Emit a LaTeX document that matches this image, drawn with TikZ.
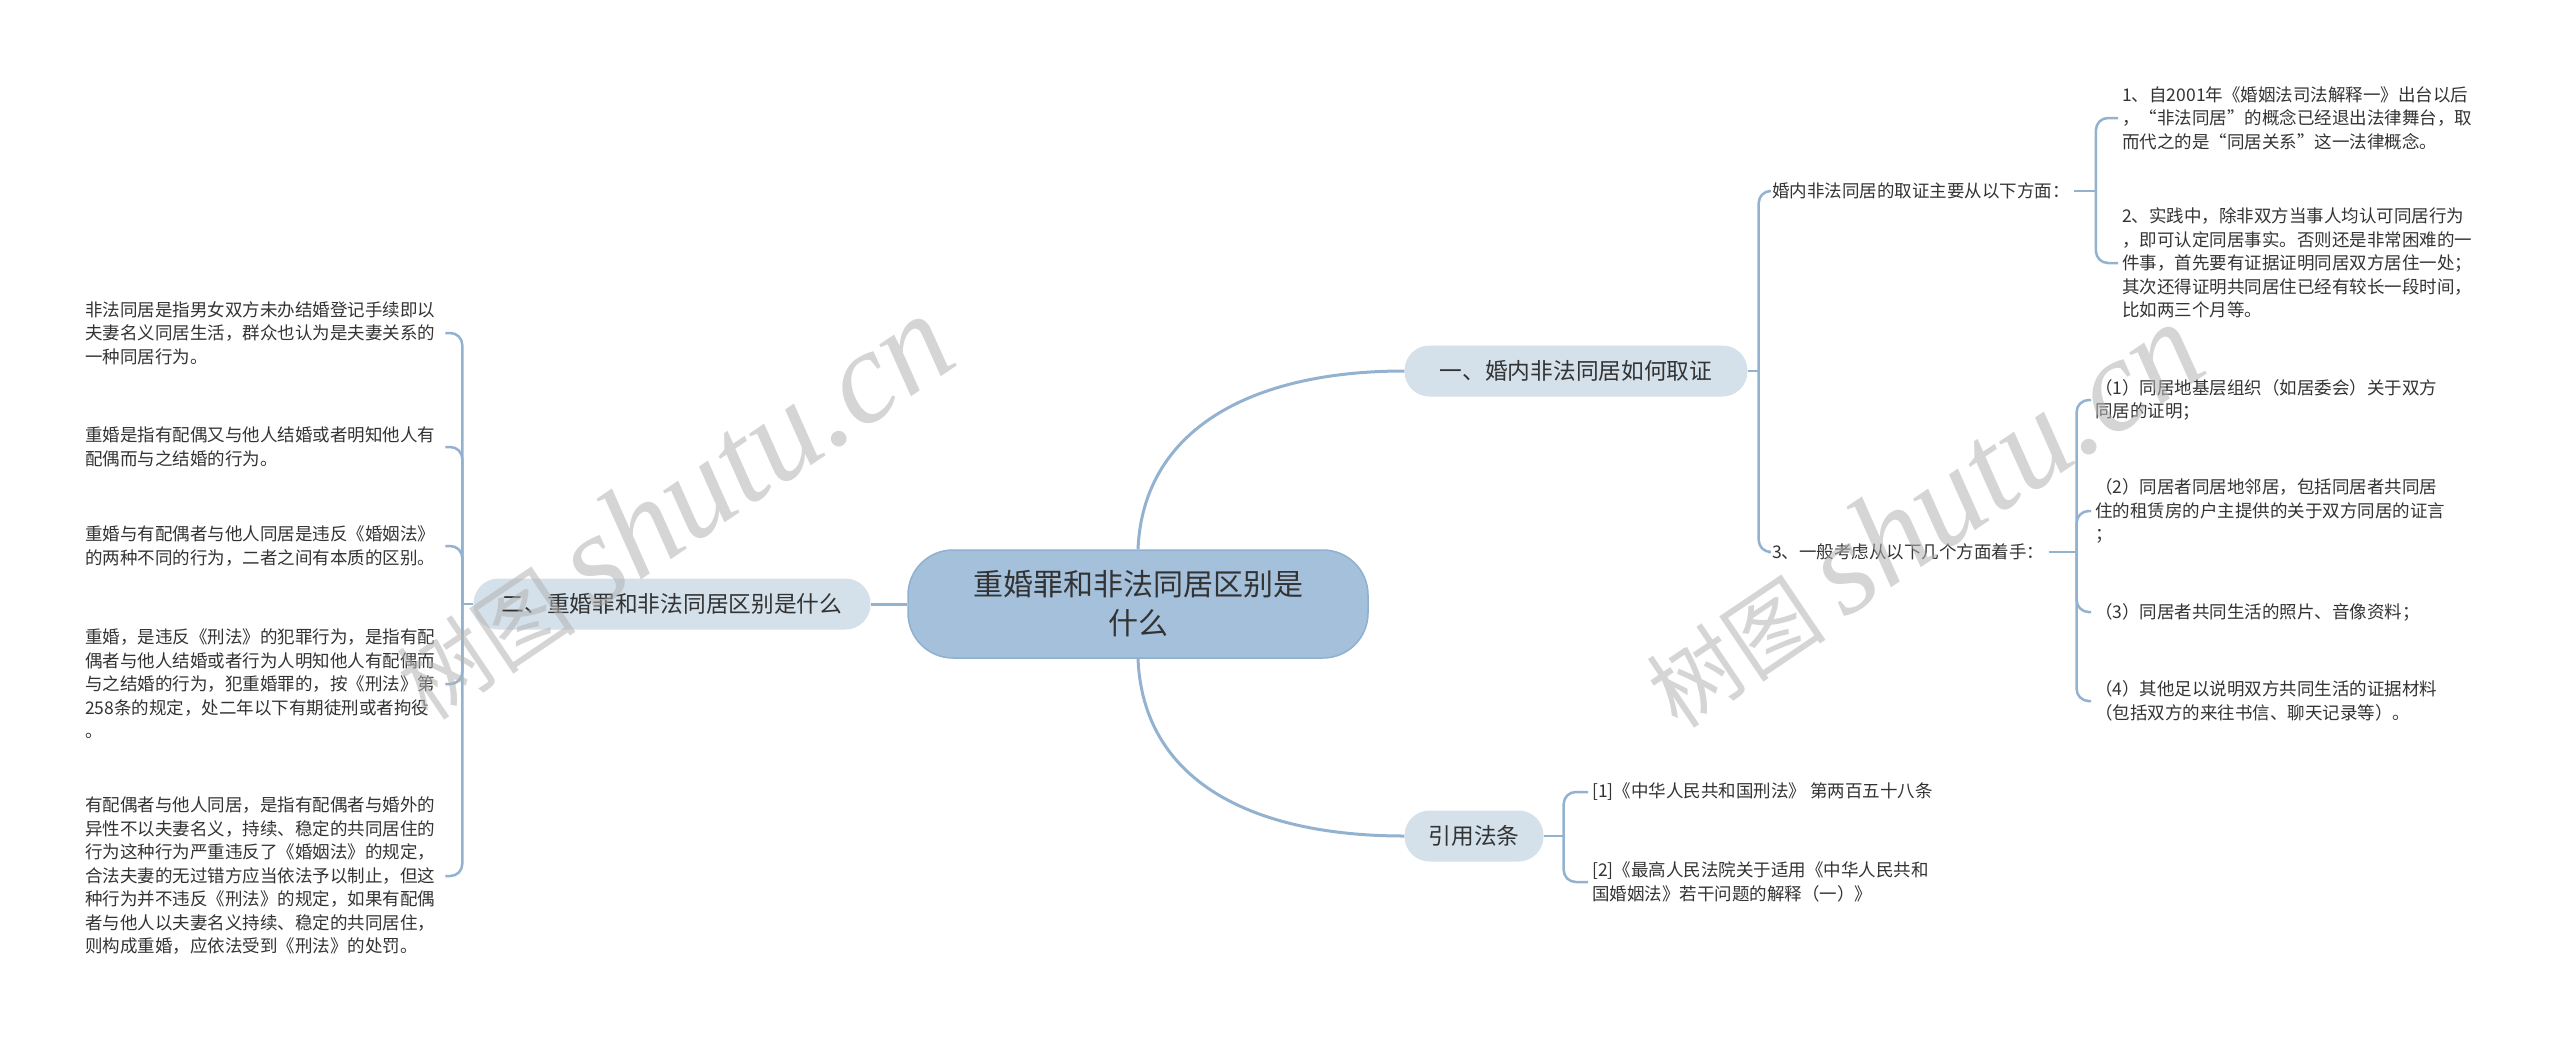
\documentclass[tikz,border=0pt]{standalone}
\usepackage{fontspec}
\setmainfont{Noto Sans CJK SC}
\newfontfamily\wmserif{Liberation Serif}
\usetikzlibrary{positioning, calc}
\definecolor{radice}{HTML}{A4C0DA}
\definecolor{radicebordo}{HTML}{8FB0CF}
\definecolor{ramo}{HTML}{D4E1EB}
\definecolor{linea}{HTML}{92B2CF}
\definecolor{testo}{HTML}{333333}
\tikzset{
  rootbox/.style={fill=radice, draw=radicebordo, line width=1.5pt, rounded corners=45pt, minimum width=460pt, minimum height=108pt, align=center, text=testo, font=\fontsize{30}{39}\selectfont},
  branchbox/.style={fill=ramo, rounded corners=25pt, minimum height=51pt, text=testo, font=\fontsize{22.7}{28}\selectfont},
  leafnode/.style={anchor=west, align=left, inner sep=4pt, text=testo, font=\fontsize{17.5}{23.5}\selectfont},
  connline/.style={draw=linea, line width=3pt},
  forkline/.style={draw=linea, line width=2.5pt, rounded corners=12pt},
  wmtext/.style={text=black!30, text opacity=0.55, rotate=34},
}

\begin{document}
\begin{tikzpicture}[x=1pt,y=-1pt]
    \useasboundingbox (0,0) rectangle (2560,1039);
    %nodo centrale
    \node[rootbox] (root) at (1138,604) {重婚罪和非法同居区别是\\什么};
    %rami principali
    \node[branchbox, minimum width=343pt] (b1) at (1576,371) {一、婚内非法同居如何取证};
    \node[branchbox, minimum width=397pt] (b2) at (672,604) {二、重婚罪和非法同居区别是什么};
    \node[branchbox, minimum width=139pt] (b3) at (1474,836) {引用法条};
    \draw[connline] (root.north) .. controls (1143,430) and (1250,371) .. (b1.west);
    \draw[connline] (root.south) .. controls (1143,780) and (1250,836) .. (b3.west);
    \draw[connline] (root.west) -- (b2.east);

    %foglie a sinistra
    \node[leafnode, text width=356pt] (l1) at (81,333) {非法同居是指男女双方未办结婚登记手续即以\\夫妻名义同居生活，群众也认为是夫妻关系的\\一种同居行为。};
    \node[leafnode, text width=356pt] (l2) at (81,447) {重婚是指有配偶又与他人结婚或者明知他人有\\配偶而与之结婚的行为。};
    \node[leafnode, text width=356pt] (l3) at (81,546) {重婚与有配偶者与他人同居是违反《婚姻法》\\的两种不同的行为，二者之间有本质的区别。};
    \node[leafnode, text width=356pt] (l4) at (81,684) {重婚，是违反《刑法》的犯罪行为，是指有配\\偶者与他人结婚或者行为人明知他人有配偶而\\与之结婚的行为，犯重婚罪的，按《刑法》第\\258条的规定，处二年以下有期徒刑或者拘役\\。};
    \node[leafnode, text width=356pt] (l5) at (81,876) {有配偶者与他人同居，是指有配偶者与婚外的\\异性不以夫妻名义，持续、稳定的共同居住的\\行为这种行为严重违反了《婚姻法》的规定，\\合法夫妻的无过错方应当依法予以制止，但这\\种行为并不违反《刑法》的规定，如果有配偶\\者与他人以夫妻名义持续、稳定的共同居住，\\则构成重婚，应依法受到《刑法》的处罚。};
    \path (b2.west) ++(-11,0) coordinate (t2);
    \draw[connline, line width=2.5pt] (b2.west) -- (t2);
    \foreach \n in {l1,l2,l3,l4,l5}
        \draw[forkline] (t2) |- (\n.east);

    %primo ramo
    \node[leafnode] (r1) at (1768,191) {婚内非法同居的取证主要从以下方面：};
    \node[leafnode] (r2) at (1768,552) {3、一般考虑从以下几个方面着手：};
    \path (b1.east) ++(11,0) coordinate (t1);
    \draw[connline, line width=2.5pt] (b1.east) -- (t1);
    \foreach \n in {r1,r2}
        \draw[forkline] (t1) |- (\n.west);

    \node[leafnode, text width=360pt] (r1a) at (2118,118) {1、自2001年《婚姻法司法解释一》出台以后\\，“非法同居”的概念已经退出法律舞台，取\\而代之的是“同居关系”这一法律概念。};
    \node[leafnode, text width=360pt] (r1b) at (2118,263) {2、实践中，除非双方当事人均认可同居行为\\，即可认定同居事实。否则还是非常困难的一\\件事，首先要有证据证明同居双方居住一处；\\其次还得证明共同居住已经有较长一段时间，\\比如两三个月等。};
    \path (r1.east) ++(22,0) coordinate (t11);
    \draw[forkline] (r1.east) -- (t11);
    \foreach \n in {r1a,r1b}
        \draw[forkline] (t11) |- (\n.west);

    \node[leafnode, text width=360pt] (r2a) at (2091,400) {（1）同居地基层组织（如居委会）关于双方\\同居的证明；};
    \node[leafnode, text width=360pt] (r2b) at (2091,511) {（2）同居者同居地邻居，包括同居者共同居\\住的租赁房的户主提供的关于双方同居的证言\\；};
    \node[leafnode] (r2c) at (2091,612) {（3）同居者共同生活的照片、音像资料；};
    \node[leafnode, text width=360pt] (r2d) at (2091,701) {（4）其他足以说明双方共同生活的证据材料\\（包括双方的来往书信、聊天记录等）。};
    \path (r2.east) ++(28,0) coordinate (t12);
    \draw[forkline] (r2.east) -- (t12);
    \foreach \n in {r2a,r2b,r2c,r2d}
        \draw[forkline] (t12) |- (\n.west);

    %riferimenti
    \node[leafnode] (b3a) at (1588,792) {[1]《中华人民共和国刑法》 第两百五十八条};
    \node[leafnode, text width=360pt] (b3b) at (1588,882) {[2]《最高人民法院关于适用《中华人民共和\\国婚姻法》若干问题的解释（一）》};
    \path (b3.east) ++(20,0) coordinate (t3);
    \draw[forkline] (b3.east) -- (t3);
    \foreach \n in {b3a,b3b}
        \draw[forkline] (t3) |- (\n.west);

    %filigrana
    \node[wmtext] (wm1) at (672,508) {\fontsize{90}{90}\selectfont 树图 {\wmserif\itshape\fontsize{132}{132}\selectfont shutu.cn}};
    \node[wmtext] (wm2) at (1922,516) {\fontsize{90}{90}\selectfont 树图 {\wmserif\itshape\fontsize{132}{132}\selectfont shutu.cn}};
\end{tikzpicture}
\end{document}
